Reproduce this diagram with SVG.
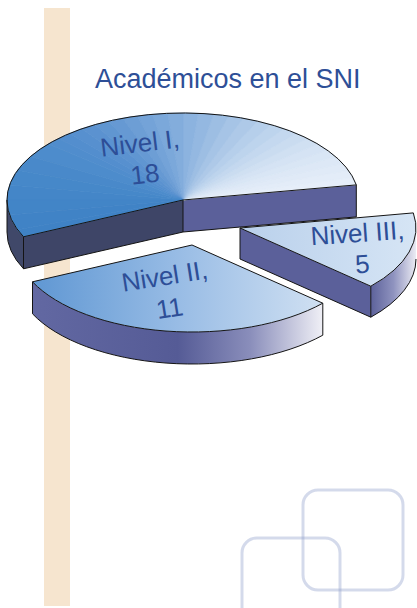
<svg xmlns="http://www.w3.org/2000/svg" width="417" height="608" viewBox="0 0 417 608">
<style>
.lbl{font-family:"Liberation Sans",Arial,sans-serif;font-size:26px;fill:#2d4e97;text-anchor:middle}
.edge{fill:none;stroke:#141414;stroke-width:1;stroke-linejoin:round}
.w path{stroke-width:0.7}
.sq{fill:none;stroke:#8d9dca;stroke-opacity:0.38;stroke-width:3}
</style>
<defs>
<linearGradient id="g2top" gradientUnits="userSpaceOnUse" x1="32" y1="0" x2="323" y2="0">
<stop offset="0" stop-color="#5f97d3"/><stop offset="0.5" stop-color="#98bce5"/><stop offset="1" stop-color="#d0e0f2"/>
</linearGradient>
<linearGradient id="g2rim" gradientUnits="userSpaceOnUse" x1="32" y1="0" x2="323" y2="0">
<stop offset="0" stop-color="#6268a2"/><stop offset="0.5" stop-color="#555b96"/><stop offset="0.75" stop-color="#8a8ebb"/><stop offset="1" stop-color="#f0f0f6"/>
</linearGradient>
<linearGradient id="g3top" gradientUnits="userSpaceOnUse" x1="240" y1="0" x2="416" y2="0">
<stop offset="0" stop-color="#b9d0eb"/><stop offset="1" stop-color="#d6e5f5"/>
</linearGradient>
<linearGradient id="g3rim" gradientUnits="userSpaceOnUse" x1="371" y1="0" x2="416" y2="0">
<stop offset="0" stop-color="#5d629b"/><stop offset="0.5" stop-color="#8f93bf"/><stop offset="1" stop-color="#ececf4"/>
</linearGradient>
</defs>
<rect width="417" height="608" fill="#ffffff"/>
<g id="background">
<rect x="44" y="8" width="26" height="598" fill="#f6e5cf"/>
<rect class="sq" x="303" y="490" width="100" height="100" rx="15"/>
<rect class="sq" x="242" y="538" width="98" height="90" rx="15"/>
</g>
<g id="title">
<text x="95" y="88" style="font-family:'Liberation Sans',Arial,sans-serif;font-size:27px;fill:#2e4f97">Académicos en el SNI</text>
</g>
<g id="nivel-1">
<path d="M183,200 L356.3,184.9 L356.3,216.9 L183,232 Z" fill="#5b609a"/>
<path d="M183,200 L23.5,236.8 L23.5,268.8 L183,232 Z" fill="#3e4567"/>
<path d="M7,200 A176,87 0 0,0 23.5,236.8 L23.5,268.8 A176,87 0 0,1 7,232 Z" fill="#404869"/>
<g class="w">
<path d="M183,200 L356.3,184.9 A176,87 0 0,0 353,177.5 Z" fill="#e6eef9" stroke="#e6eef9"/>
<path d="M183,200 L353,177.5 A176,87 0 0,0 348.4,170.2 Z" fill="#e3ecf8" stroke="#e3ecf8"/>
<path d="M183,200 L348.4,170.2 A176,87 0 0,0 342.5,163.2 Z" fill="#e0eaf7" stroke="#e0eaf7"/>
<path d="M183,200 L342.5,163.2 A176,87 0 0,0 335.4,156.5 Z" fill="#dde8f6" stroke="#dde8f6"/>
<path d="M183,200 L335.4,156.5 A176,87 0 0,0 327.2,150.1 Z" fill="#d9e6f5" stroke="#d9e6f5"/>
<path d="M183,200 L327.2,150.1 A176,87 0 0,0 317.8,144.1 Z" fill="#d5e3f4" stroke="#d5e3f4"/>
<path d="M183,200 L317.8,144.1 A176,87 0 0,0 307.5,138.5 Z" fill="#d0e0f2" stroke="#d0e0f2"/>
<path d="M183,200 L307.5,138.5 A176,87 0 0,0 296.2,133.4 Z" fill="#cadcf0" stroke="#cadcf0"/>
<path d="M183,200 L296.2,133.4 A176,87 0 0,0 284,128.7 Z" fill="#c4d8ef" stroke="#c4d8ef"/>
<path d="M183,200 L284,128.7 A176,87 0 0,0 271,124.7 Z" fill="#bdd4ed" stroke="#bdd4ed"/>
<path d="M183,200 L271,124.7 A176,87 0 0,0 257.4,121.2 Z" fill="#b6cfeb" stroke="#b6cfeb"/>
<path d="M183,200 L257.4,121.2 A176,87 0 0,0 243.2,118.2 Z" fill="#aec9e8" stroke="#aec9e8"/>
<path d="M183,200 L243.2,118.2 A176,87 0 0,0 228.6,116 Z" fill="#a6c4e6" stroke="#a6c4e6"/>
<path d="M183,200 L228.6,116 A176,87 0 0,0 213.6,114.3 Z" fill="#9dbee3" stroke="#9dbee3"/>
<path d="M183,200 L213.6,114.3 A176,87 0 0,0 198.3,113.3 Z" fill="#94b8e1" stroke="#94b8e1"/>
<path d="M183,200 L198.3,113.3 A176,87 0 0,0 183,113 Z" fill="#8cb3df" stroke="#8cb3df"/>
<path d="M183,200 L183,113 A176,87 0 0,0 167.7,113.3 Z" fill="#83addc" stroke="#83addc"/>
<path d="M183,200 L167.7,113.3 A176,87 0 0,0 152.4,114.3 Z" fill="#7ba8da" stroke="#7ba8da"/>
<path d="M183,200 L152.4,114.3 A176,87 0 0,0 137.4,116 Z" fill="#74a3d8" stroke="#74a3d8"/>
<path d="M183,200 L137.4,116 A176,87 0 0,0 122.8,118.2 Z" fill="#6d9ed5" stroke="#6d9ed5"/>
<path d="M183,200 L122.8,118.2 A176,87 0 0,0 108.6,121.2 Z" fill="#6699d3" stroke="#6699d3"/>
<path d="M183,200 L108.6,121.2 A176,87 0 0,0 95,124.7 Z" fill="#6096d1" stroke="#6096d1"/>
<path d="M183,200 L95,124.7 A176,87 0 0,0 82,128.7 Z" fill="#5b92d0" stroke="#5b92d0"/>
<path d="M183,200 L82,128.7 A176,87 0 0,0 69.8,133.4 Z" fill="#5790cf" stroke="#5790cf"/>
<path d="M183,200 L69.8,133.4 A176,87 0 0,0 58.5,138.5 Z" fill="#538ece" stroke="#538ece"/>
<path d="M183,200 L58.5,138.5 A176,87 0 0,0 48.2,144.1 Z" fill="#508dcd" stroke="#508dcd"/>
<path d="M183,200 L48.2,144.1 A176,87 0 0,0 30.6,156.5 Z" fill="#4d8ccc" stroke="#4d8ccc"/>
<path d="M183,200 L30.6,156.5 A176,87 0 0,0 17.6,170.2 Z" fill="#4989ca" stroke="#4989ca"/>
<path d="M183,200 L17.6,170.2 A176,87 0 0,0 9.7,184.9 Z" fill="#4688c9" stroke="#4688c9"/>
<path d="M183,200 L9.7,184.9 A176,87 0 0,0 7,200 Z" fill="#4486c8" stroke="#4486c8"/>
<path d="M183,200 L7,200 A176,87 0 0,0 9.7,215.1 Z" fill="#4285c7" stroke="#4285c7"/>
<path d="M183,200 L9.7,215.1 A176,87 0 0,0 17.6,229.8 Z" fill="#4083c6" stroke="#4083c6"/>
<path d="M183,200 L17.6,229.8 A176,87 0 0,0 23.5,236.8 Z" fill="#3f82c5" stroke="#3f82c5"/>
</g>
<path class="edge" d="M183,200 L356.3,184.9 A176,87 0 1,0 23.5,236.8 Z"/>
<path class="edge" d="M356.3,184.9 L356.3,216.9 L183,232 L23.5,268.8 L23.5,236.8 M183,200 L183,232 M7,200 L7,232 A176,87 0 0,0 23.5,268.8"/>
<text class="lbl" transform="translate(141,152) rotate(-7)">Nivel I,</text>
<text class="lbl" transform="translate(146,183) rotate(-7)">18</text>
</g>
<g id="nivel-3">
<path d="M240,228 L370.8,286.2 L370.8,317.2 L240,259 Z" fill="#5b609a"/>
<path d="M370.8,286.2 A176,87 0 0,0 416,228 L416,259 A176,87 0 0,1 370.8,317.2 Z" fill="url(#g3rim)"/>
<path d="M240,228 L370.8,286.2 A176,87 0 0,0 413.3,212.9 Z" fill="url(#g3top)"/>
<path class="edge" d="M240,228 L370.8,286.2 A176,87 0 0,0 413.3,212.9 Z M240,228 L240,259 L370.8,317.2 L370.8,286.2 M370.8,317.2 A176,87 0 0,0 416,259"/>
<text class="lbl" transform="translate(358,242) rotate(-4)">Nivel III,</text>
<text class="lbl" transform="translate(363,273) rotate(-4)">5</text>
</g>
<g id="nivel-2">
<path d="M32.5,281.8 A176,87 0 0,0 322.8,303.2 L322.8,335.2 A176,87 0 0,1 32.5,313.8 Z" fill="url(#g2rim)"/>
<path d="M192,245 L32.5,281.8 A176,87 0 0,0 322.8,303.2 Z" fill="url(#g2top)"/>
<path class="edge" d="M192,245 L32.5,281.8 A176,87 0 0,0 322.8,303.2 Z M32.5,281.8 L32.5,313.8 A176,87 0 0,0 322.8,335.2 L322.8,303.2"/>
<text class="lbl" transform="translate(166,285) rotate(-9)">Nivel II,</text>
<text class="lbl" transform="translate(171,317) rotate(-9)">11</text>
</g>
</svg>
